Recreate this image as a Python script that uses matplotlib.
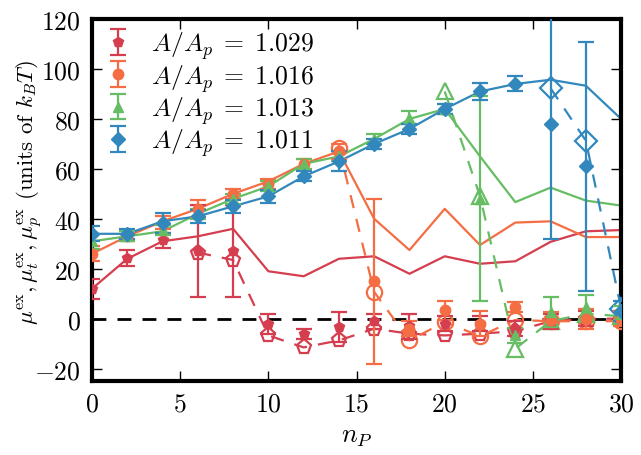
import numpy as np
import matplotlib
matplotlib.use("Agg")
import matplotlib.pyplot as plt

plt.rcParams['font.family'] = 'serif'
plt.rcParams['font.serif'] = ['cmr10', 'DejaVu Serif']
plt.rcParams['mathtext.fontset'] = 'cm'
plt.rcParams['axes.formatter.use_mathtext'] = True
plt.rcParams['axes.unicode_minus'] = True

n_p = np.arange(0, 31, 2)

labels = ['$A/A_p \\;=\\; 1.029$', '$A/A_p \\;=\\; 1.016$', '$A/A_p \\;=\\; 1.013$', '$A/A_p \\;=\\; 1.011$']
colors = ['#d53e4f', '#f46d43', '#66bd63', '#3288bd']
markers = ['p', 'o', '^', 'D']

# mu_ex, measured (filled markers with error bars)
red_mu = [12, 24.4, 31.5, 27, 27, -2, -6, -3.3, -1, -3, -2, -2, -4, -1, 0, 0]
red_err = [4, 3.3, 3, 18.5, 18.5, 4, 2, 6, 3, 5, 3, 3, 3, 3, 3, 3]
orange_mu = [26, 33, 38.5, 44, 50, 54, 62, 67, 15, -4, 3.3, -2, 4.5, -0.5, 0, 0]
orange_err = [3, 2, 2.5, 3.5, 2, 2, 2, 3, 33, 3, 3.7, 5, 2, 3, 4, 3]
green_mu = [31, 33, 35.5, 42, 48, 53, 62, 65, 72, 80.5, 84, 48, -6.7, 2.5, 4.5, 2]
green_err = [3, 2, 2, 2, 2, 2, 2, 2, 2, 2.5, 2, 41, 3, 6, 5, 3]
blue_mu = [34, 34, 38.5, 41, 45, 49, 57, 63, 70, 76, 84, 91, 94, 78, 61, 3]
blue_err = [3, 2, 4, 2.5, 2.5, 2.5, 2, 4, 2, 2, 2, 3.5, 3, 46, 50, 4]

# mu_t (solid lines)
red_t = [12, 24, 31, 33, 36, 19, 17, 24, 25, 18, 25, 22, 23, 30.8, 35, 35.5]
orange_t = [26, 33, 39, 44, 50, 55, 62, 67, 40, 27.5, 44, 29.5, 38.5, 39, 32.7, 32.7]
green_t = [31, 33, 35, 42, 48, 53, 62, 65, 72, 80, 84, 65, 46.7, 52.5, 47.3, 45.3]
blue_t = [34, 34, 39, 41, 45, 49, 57, 63, 70, 76, 84, 91, 94, 95.7, 93.3, 80]

# mu_p (open markers, dashed)
red_p_x = [6, 8, 10, 12, 14, 16, 18, 20, 22, 24, 26, 28, 30]
red_p = [26.5, 23.5, -6.7, -11.5, -8.7, -4, -6, -6.7, -6, -5, -1, 0, 0]
orange_p_x = [14, 16, 18, 20, 22, 24, 26, 28, 30]
orange_p = [68.5, 10.7, -8.7, -1.3, -7, -0.5, -1, -1, -1]
green_p_x = [20, 22, 24, 26, 28, 30]
green_p = [91, 49, -12, -1, 2, 1]
blue_p_x = [26, 28, 30]
blue_p = [92.3, 71.3, 4]

mus = [red_mu, orange_mu, green_mu, blue_mu]
errs = [red_err, orange_err, green_err, blue_err]
mut = [red_t, orange_t, green_t, blue_t]
mup_x = [red_p_x, orange_p_x, green_p_x, blue_p_x]
mup = [red_p, orange_p, green_p, blue_p]

fig = plt.figure(figsize=(6.41, 4.56), dpi=100)
ax = fig.add_axes([0.1435, 0.162, 0.8255, 0.794])

ax.axhline(0, color='black', lw=2, ls=(0, (5, 4)), zorder=1)

handles = []
for i in range(4):
    c = colors[i]
    ax.plot(n_p, mut[i], color=c, lw=1.6, zorder=2)
    ax.plot(mup_x[i], mup[i], color=c, lw=1.6, ls=(0, (6, 5)),
            marker=markers[i], ms=11, mfc='none', mec=c, mew=1.6, zorder=3)
    h = ax.errorbar(n_p, mus[i], yerr=errs[i], fmt=markers[i], color=c,
                    ms=7.5, capsize=5.5, capthick=1.6, elinewidth=1.6, zorder=4)
    handles.append(h)

ax.set_xlim(0, 30)
ax.set_ylim(-25, 120)
ax.set_xticks(range(0, 31, 5))
ax.set_yticks(range(-20, 121, 20))
ax.tick_params(direction='in', length=7, width=1, top=True, right=True, labelsize=18.5, pad=8)
for s in ax.spines.values():
    s.set_linewidth(3)

ax.set_xlabel('$n_P$', fontsize=19, labelpad=6)
ax.set_ylabel(r'$\mu^{\rm ex}, \mu_t^{\rm ex}, \mu_p^{\rm ex}$ (units of $k_BT$)', fontsize=16.5, va='center')
ax.yaxis.set_label_coords(-0.117, 0.525)

ax.legend(handles, labels, loc='upper left', frameon=False, fontsize=18.5,
          handlelength=1.2, handletextpad=0.7, labelspacing=0.02, borderaxespad=0.1,
          borderpad=0.3)

fig.savefig('out.png', dpi=100)
